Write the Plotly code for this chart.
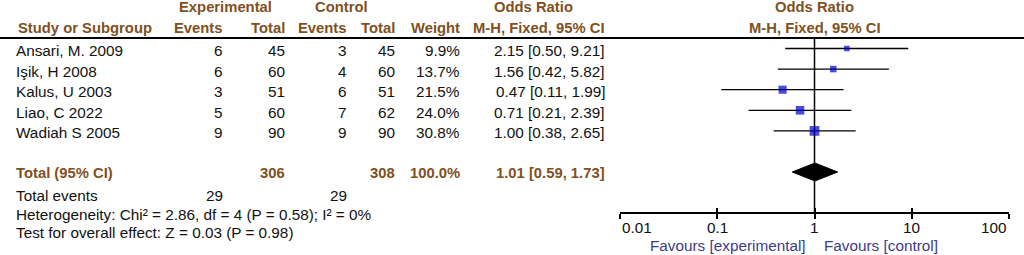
import math
import plotly.graph_objects as go

# ---------------- data ----------------
studies = ["Ansari, M. 2009", "Işik, H 2008", "Kalus, U 2003", "Liao, C 2022", "Wadiah S 2005"]
exp_events = [6, 6, 3, 5, 9]
exp_total = [45, 60, 51, 60, 90]
ctrl_events = [3, 4, 6, 7, 9]
ctrl_total = [45, 60, 51, 62, 90]
weights = [9.9, 13.7, 21.5, 24.0, 30.8]
or_est = [2.15, 1.56, 0.47, 0.71, 1.00]
ci_low = [0.50, 0.42, 0.11, 0.21, 0.38]
ci_high = [9.21, 5.82, 1.99, 2.39, 2.65]
total_weight = 100.0
pooled = [1.01, 0.59, 1.73]  # estimate, low, high
heterogeneity_text = "Heterogeneity: Chi² = 2.86, df = 4 (P = 0.58); I² = 0%"
overall_text = "Test for overall effect: Z = 0.03 (P = 0.98)"
tick_vals = [0.01, 0.1, 1, 10, 100]
tick_text = ["0.01", "0.1", "1", "10", "100"]
favours_left = "Favours [experimental]"
favours_right = "Favours [control]"

# ---------------- style ----------------
W, H = 1024, 255
FONT = "Liberation Sans, Arial, sans-serif"
REG = 15.3
BOLD = 14.8
HDR_COLOR = "#80501e"
TXT = "#111111"
FAV_COLOR = "#3e3a8a"
SQ_COLOR = "#0000c8"

row0_line = 48.5
row_step = 20.6
text_off = 2.0
total_y = 172
axis_y = 213
header_line_y = 38

fig = go.Figure()
ann = []


def px(x):
    return x / W


def add_text(x, y, text, anchor="left", bold=False, color=TXT, size=None):
    ann.append(dict(
        x=px(x), y=y, xref="paper", yref="y", text=(f"<b>{text}</b>" if bold else text),
        showarrow=False, xanchor=anchor, yanchor="middle",
        font=dict(family=FONT, size=size or (BOLD if bold else REG), color=color),
    ))


# column right edges
C_STUDY = 14
C_EEV, C_ETOT, C_CEV, C_CTOT, C_W, C_OR = 225, 287, 349, 397, 462, 607

# headers
add_text(225, 7, "Experimental", "center", True, HDR_COLOR)
add_text(341, 7, "Control", "center", True, HDR_COLOR)
add_text(533, 7, "Odds Ratio", "center", True, HDR_COLOR)
add_text(16, 28, "Study or Subgroup", "left", True, HDR_COLOR)
add_text(C_EEV, 28, "Events", "right", True, HDR_COLOR)
add_text(C_ETOT, 28, "Total", "right", True, HDR_COLOR)
add_text(C_CEV, 28, "Events", "right", True, HDR_COLOR)
add_text(C_CTOT, 28, "Total", "right", True, HDR_COLOR)
add_text(C_W, 28, "Weight", "right", True, HDR_COLOR)
add_text(C_OR, 28, "M-H, Fixed, 95% CI", "right", True, HDR_COLOR)

for lbl, yy in (("Odds Ratio", 7), ("M-H, Fixed, 95% CI", 28)):
    ann.append(dict(x=0, y=yy, xref="x", yref="y", text=f"<b>{lbl}</b>", showarrow=False,
                    xanchor="center", yanchor="middle",
                    font=dict(family=FONT, size=BOLD, color=HDR_COLOR)))

# study rows
row_y = []
for i, s in enumerate(studies):
    yl = row0_line + row_step * i
    row_y.append(yl)
    yt = yl + text_off
    add_text(C_STUDY, yt, s, "left")
    add_text(C_EEV, yt, str(exp_events[i]), "right")
    add_text(C_ETOT, yt, str(exp_total[i]), "right")
    add_text(C_CEV, yt, str(ctrl_events[i]), "right")
    add_text(C_CTOT, yt, str(ctrl_total[i]), "right")
    add_text(C_W, yt, f"{weights[i]:.1f}%", "right")
    add_text(C_OR, yt, f"{or_est[i]:.2f} [{ci_low[i]:.2f}, {ci_high[i]:.2f}]", "right")

# totals
ty = total_y + 1
add_text(C_STUDY, ty, "Total (95% CI)", "left", True, HDR_COLOR)
add_text(C_ETOT, ty, str(sum(exp_total)), "right", True, HDR_COLOR)
add_text(C_CTOT, ty, str(sum(ctrl_total)), "right", True, HDR_COLOR)
add_text(C_W, ty, f"{total_weight:.1f}%", "right", True, HDR_COLOR)
add_text(C_OR, ty, f"{pooled[0]:.2f} [{pooled[1]:.2f}, {pooled[2]:.2f}]", "right", True, HDR_COLOR)

add_text(C_STUDY, 195.5, "Total events", "left")
add_text(C_EEV, 195.5, str(sum(exp_events)), "right")
add_text(C_CEV, 195.5, str(sum(ctrl_events)), "right")
add_text(C_STUDY, 214, heterogeneity_text, "left")
add_text(C_STUDY, 232, overall_text, "left")

# tick labels
for k, (v, t) in enumerate(zip(tick_vals, tick_text)):
    anc = "left" if k == 0 else ("right" if k == len(tick_vals) - 1 else "center")
    ann.append(dict(x=math.log10(v), y=227.5, xref="x", yref="y", text=t, showarrow=False,
                    xanchor=anc, yanchor="middle", font=dict(family=FONT, size=REG, color=TXT)))

# favours
ann.append(dict(x=math.log10(1), xshift=-7, y=245, xref="x", yref="y", text=favours_left,
                showarrow=False, xanchor="right", yanchor="middle",
                font=dict(family=FONT, size=REG, color=FAV_COLOR)))
ann.append(dict(x=math.log10(1), xshift=7, y=245, xref="x", yref="y", text=favours_right,
                showarrow=False, xanchor="left", yanchor="middle",
                font=dict(family=FONT, size=REG, color=FAV_COLOR)))

# vertical line of no effect
fig.add_trace(go.Scatter(x=[1, 1], y=[header_line_y, axis_y], mode="lines",
                         line=dict(color="black", width=1.5), hoverinfo="skip", showlegend=False))

# CI lines
for i in range(len(studies)):
    fig.add_trace(go.Scatter(x=[ci_low[i], ci_high[i]], y=[row_y[i], row_y[i]], mode="lines",
                             line=dict(color="black", width=1.3), hoverinfo="skip", showlegend=False))

# squares
fig.add_trace(go.Scatter(x=or_est, y=row_y, mode="markers",
                         marker=dict(symbol="square", color=SQ_COLOR,
                                     size=[1.75 * math.sqrt(w) for w in weights],
                                     line=dict(width=0)),
                         showlegend=False, hoverinfo="skip"))

# diamond
dh = 9
fig.add_trace(go.Scatter(x=[pooled[1], pooled[0], pooled[2], pooled[0], pooled[1]],
                         y=[total_y, total_y - dh, total_y, total_y + dh, total_y],
                         mode="lines", fill="toself", fillcolor="black",
                         line=dict(color="black", width=1), showlegend=False, hoverinfo="skip"))

# dummy trace for overlay axis
fig.add_trace(go.Scatter(x=[1], y=[axis_y], xaxis="x2", mode="markers",
                         marker=dict(opacity=0), showlegend=False, hoverinfo="skip"))

axis_common = dict(type="log", range=[-2, 2], domain=[620 / W, 1009 / W], anchor="free",
                   position=1 - axis_y / H, tickvals=tick_vals, showticklabels=False,
                   showgrid=False, zeroline=False, tickcolor="black", tickwidth=1.5, ticklen=5)

fig.update_layout(
    width=W, height=H, margin=dict(l=0, r=0, t=0, b=0),
    paper_bgcolor="white", plot_bgcolor="white",
    xaxis=dict(**axis_common, ticks="outside", showline=True, linecolor="black", linewidth=1.5),
    xaxis2=dict(**axis_common, ticks="inside", showline=False, overlaying="x"),
    yaxis=dict(range=[H, 0], domain=[0, 1], visible=False),
    annotations=ann,
    shapes=[dict(type="line", xref="paper", yref="y", x0=0, x1=1, y0=header_line_y, y1=header_line_y,
                 line=dict(color="black", width=2))],
    showlegend=False,
)

fig.write_html("out.html", config={"displayModeBar": False},
               post_script="document.body.style.margin='0';document.body.style.overflow='hidden';")
